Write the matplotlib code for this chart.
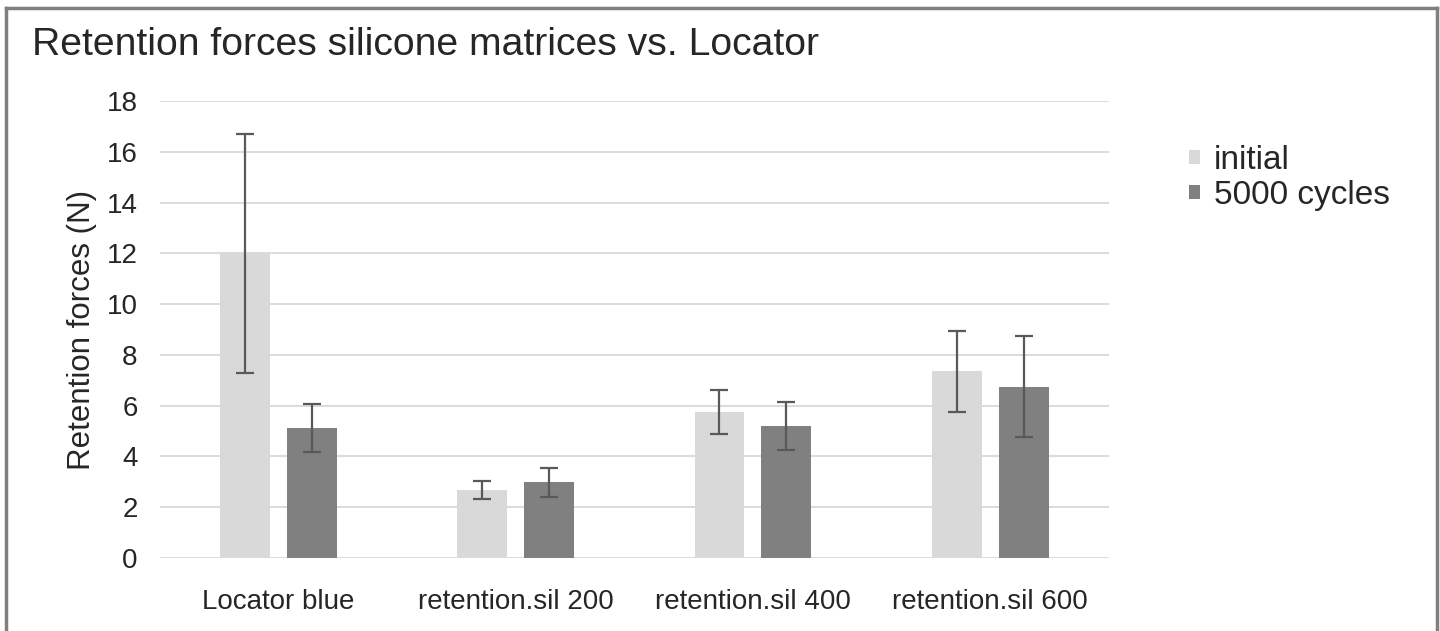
import matplotlib.pyplot as plt
import numpy as np
from matplotlib.lines import Line2D

# Data
categories = ['Locator blue', 'retention.sil 200', 'retention.sil 400', 'retention.sil 600']
initial = [12.0, 2.68, 5.75, 7.35]
initial_err = [4.7, 0.36, 0.85, 1.6]
cycles = [5.12, 2.99, 5.2, 6.75]
cycles_err = [0.95, 0.57, 0.95, 2.0]

plt.rcParams['font.family'] = ['Liberation Sans', 'DejaVu Sans']

fig = plt.figure(figsize=(14.4, 6.31), dpi=100)
ax = fig.add_axes([0.111, 0.1157, 0.659, 0.7243])

x = np.arange(len(categories))
w = 0.21
off = 0.141
err_kw = dict(ecolor='#595959', elinewidth=1.6, capsize=6.5, capthick=1.6)
ax.bar(x - off, initial, w, yerr=initial_err, color='#D9D9D9', label='initial', error_kw=err_kw, zorder=2)
ax.bar(x + off, cycles, w, yerr=cycles_err, color='#808080', label='5000 cycles', error_kw=err_kw, zorder=2)

ax.set_xlim(-0.5, len(categories) - 0.5)
ax.set_ylim(0, 18)
ax.set_yticks(range(0, 19, 2))
ax.set_xticks(x)
ax.set_xticklabels(categories, fontsize=20, color='#262626')
ax.tick_params(axis='y', labelsize=20, colors='#262626', length=0, pad=16)
ax.tick_params(axis='x', length=0, pad=22)
ax.yaxis.grid(True, color='#D9D9D9', linewidth=1.3, zorder=0)
ax.set_axisbelow(True)
for s in ax.spines.values():
    s.set_visible(False)
ax.set_ylabel('Retention forces (N)', fontsize=22.5, color='#262626', labelpad=7)

fig.text(0.022, 0.928, 'Retention forces silicone matrices vs. Locator', fontsize=28.2, color='#262626', va='center')

ax.legend(loc='upper left', bbox_to_anchor=(1.053, 0.97), frameon=False, fontsize=24,
          handlelength=0.34, handleheight=0.26, handletextpad=0.4, labelspacing=0.12,
          labelcolor='#262626')

# gray frame around the picture
fc = '#7F7F7F'
fig.add_artist(Line2D([0.004, 0.004], [0, 0.987], color=fc, lw=2.5))
fig.add_artist(Line2D([0.004, 0.998], [0.987, 0.987], color=fc, lw=2.5))
fig.add_artist(Line2D([0.998, 0.998], [0, 0.987], color=fc, lw=2.5))

fig.savefig('out.png', dpi=100)
